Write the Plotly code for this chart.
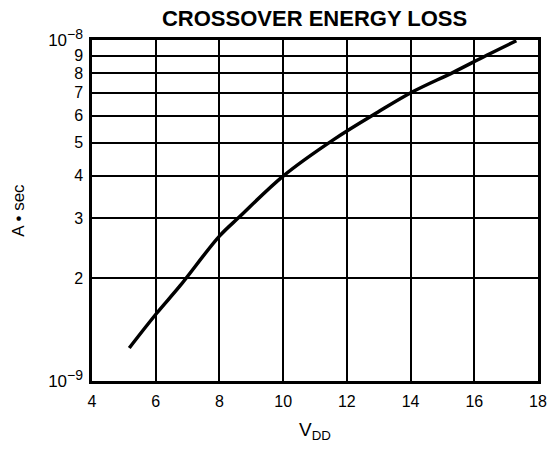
import plotly.graph_objects as go

# Data (V_DD in volts, energy loss in A·sec)
vdd = [5.17, 6.03, 6.76, 8.0, 8.63, 10.0, 11.62, 12.98, 14.08, 15.34, 16.39, 17.32]
energy = [1.25e-9, 1.58e-9, 1.90e-9, 2.66e-9, 3.03e-9, 3.99e-9, 5.13e-9, 6.15e-9,
          7.06e-9, 8.04e-9, 9.02e-9, 9.95e-9]

x_ticks = [4, 6, 8, 10, 12, 14, 16, 18]
y_ticks = [1e-9, 2e-9, 3e-9, 4e-9, 5e-9, 6e-9, 7e-9, 8e-9, 9e-9, 1e-8]
y_tick_text = ["<span style='font-size:17px'>10</span><sup><span style='font-size:14px'>\u22129</span></sup>",
               "2", "3", "4", "5", "6", "7", "8", "9",
               "<span style='font-size:17px'>10</span><sup><span style='font-size:14px'>\u22128</span></sup>"]

title_text = "CROSSOVER ENERGY LOSS"
x_title = "V<sub>DD</sub>"
y_title = "A \u2022 sec"

FONT = "Liberation Sans, Arial, Helvetica, sans-serif"

fig = go.Figure()
fig.add_trace(go.Scatter(
    x=vdd, y=energy, mode="lines",
    line=dict(color="black", width=3.5, shape="spline", smoothing=1.0),
    showlegend=False, hoverinfo="skip",
))

fig.update_layout(
    width=549, height=451,
    margin=dict(l=92, r=11, t=40, b=70, autoexpand=False),
    paper_bgcolor="white", plot_bgcolor="white",
    font=dict(family=FONT, color="black", size=16),
    title=dict(text="<b>" + title_text + "</b>", x=0.573, xanchor="center",
               y=0.959, yanchor="middle", font=dict(size=22, family=FONT, color="black")),
)

fig.update_xaxes(
    range=[4, 18], tickvals=x_ticks,
    showgrid=True, gridcolor="black", gridwidth=1.5,
    showline=True, linecolor="black", linewidth=2.5, mirror=True,
    ticks="", zeroline=False, ticklabelstandoff=4,
    tickfont=dict(size=16),
    title=dict(text=x_title, font=dict(size=19), standoff=14),
    automargin=False,
)

fig.update_yaxes(
    type="log", range=[-9, -8], tickvals=y_ticks, ticktext=y_tick_text,
    showgrid=True, gridcolor="black", gridwidth=1.5,
    showline=True, linecolor="black", linewidth=2.5, mirror=True,
    ticks="", zeroline=False, ticklabelstandoff=3,
    tickfont=dict(size=16),
    title=dict(text=y_title, font=dict(size=17), standoff=20),
    automargin=False,
)

fig.write_html(
    "out.html",
    config={"displayModeBar": False},
    post_script="document.body.style.margin='0';document.body.style.overflow='hidden';",
)
